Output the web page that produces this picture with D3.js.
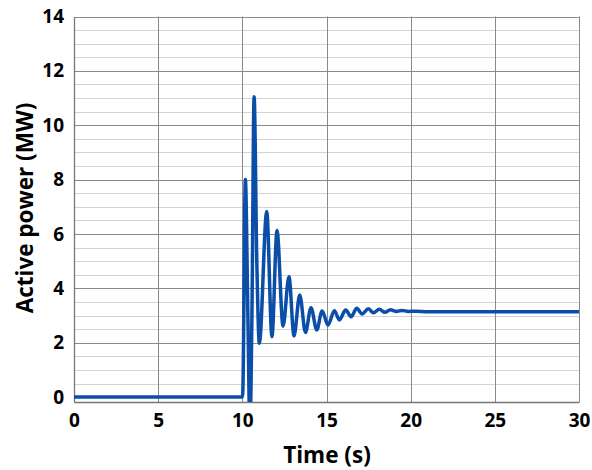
<!DOCTYPE html>
<html lang="en">
<head>
  <meta charset="UTF-8">
  <title>Active power</title>
  <script src="https://d3js.org/d3.v7.min.js"></script>
  <style>
    body { margin: 0; background: #fff; }
    text { font-family: "Open Sans", Arial, sans-serif; font-weight: bold; fill: #000; }
  </style>
</head>
<body>
  <div id="chart"></div>
  <script>
    // time (s) and active power (MW)
    const time = [0, 10.0, 10.03, 10.18, 10.33, 10.45, 10.57, 10.70, 10.86, 11.01, 11.45, 11.76, 12.06, 12.42, 12.77, 13.07,
      13.41, 13.75, 14.08, 14.42, 14.74, 15.09, 15.47, 15.76, 16.14, 16.46, 16.80, 17.11, 17.49, 17.79, 18.14,
      18.47, 18.80, 19.15, 19.50, 19.85, 20.3, 21, 22, 30];
    const power = [0, 0, 0.2, 8.0, 3.0, -1.2, 3.0, 11.05, 5.0, 1.98, 6.83, 2.22, 6.13, 2.61, 4.43, 2.25,
      3.76, 2.38, 3.29, 2.47, 3.17, 2.65, 3.18, 2.84, 3.20, 2.96, 3.27, 3.06, 3.25, 3.10, 3.23,
      3.12, 3.21, 3.15, 3.19, 3.15, 3.16, 3.14, 3.14, 3.14];
    const xTicks = [0, 5, 10, 15, 20, 25, 30];
    const yTicks = [0, 2, 4, 6, 8, 10, 12, 14];

    const w = 592, h = 470;
    const m = { left: 74, right: 579, top: 16.5, bottom: 402 };

    const svg = d3.select("#chart").append("svg")
      .attr("width", w).attr("height", h);

    const x = d3.scaleLinear().domain([0, 30]).range([m.left, m.right]);
    const y = d3.scaleLinear().domain([-0.18, 14]).range([m.bottom, m.top]);

    // minor horizontal grid
    svg.append("g").selectAll("line")
      .data(d3.range(0.5, 14, 0.5).filter(v => v % 2 !== 0))
      .enter().append("line")
      .attr("x1", m.left).attr("x2", m.right)
      .attr("y1", d => Math.round(y(d)) + 0.5).attr("y2", d => Math.round(y(d)) + 0.5)
      .attr("stroke", "#d4d4d4").attr("stroke-width", 1.2);

    // major grid
    svg.append("g").selectAll("line")
      .data(yTicks.filter(v => v > 0))
      .enter().append("line")
      .attr("x1", m.left).attr("x2", m.right)
      .attr("y1", d => Math.round(y(d)) + 0.5).attr("y2", d => Math.round(y(d)) + 0.5)
      .attr("stroke", "#8a8a8a").attr("stroke-width", 1);

    svg.append("g").selectAll("line")
      .data(xTicks.filter(v => v > 0))
      .enter().append("line")
      .attr("x1", d => Math.round(x(d)) + 0.5).attr("x2", d => Math.round(x(d)) + 0.5)
      .attr("y1", m.top).attr("y2", m.bottom)
      .attr("stroke", "#8a8a8a").attr("stroke-width", 1);

    // axes
    const xAxis = svg.append("g")
      .attr("transform", `translate(0,${m.bottom})`)
      .call(d3.axisBottom(x).tickValues(xTicks).tickSize(0).tickPadding(12));
    const yAxis = svg.append("g")
      .attr("transform", `translate(${m.left},0)`)
      .call(d3.axisLeft(y).tickValues(yTicks).tickSize(0).tickPadding(10));
    [xAxis, yAxis].forEach(a => {
      a.select(".domain").attr("stroke", "#777").attr("stroke-width", 1.3);
      a.selectAll("text").style("font-size", "19px").style("font-family", "'Open Sans', Arial, sans-serif")
        .style("font-weight", "bold").attr("fill", "#000");
    });

    svg.append("defs").append("clipPath").attr("id", "clip")
      .append("rect").attr("x", m.left).attr("y", m.top - 5)
      .attr("width", m.right - m.left + 5).attr("height", m.bottom - m.top + 5);

    const pts = time.map((t, i) => [t, power[i]]);
    const line = d3.line()
      .x(d => x(d[0])).y(d => y(d[1]))
      .curve(d3.curveMonotoneX);

    svg.append("path")
      .datum(pts)
      .attr("clip-path", "url(#clip)")
      .attr("d", line)
      .attr("fill", "none")
      .attr("stroke", "#0a4eaa")
      .attr("stroke-width", 3.5)
      .attr("stroke-linejoin", "round");

    svg.append("text")
      .attr("x", 327).attr("y", 463)
      .attr("text-anchor", "middle")
      .style("font-size", "22.5px")
      .text("Time (s)");

    svg.append("text")
      .attr("transform", "translate(33,208) rotate(-90)")
      .attr("text-anchor", "middle")
      .style("font-size", "22.5px")
      .text("Active power (MW)");
  </script>
</body>
</html>
